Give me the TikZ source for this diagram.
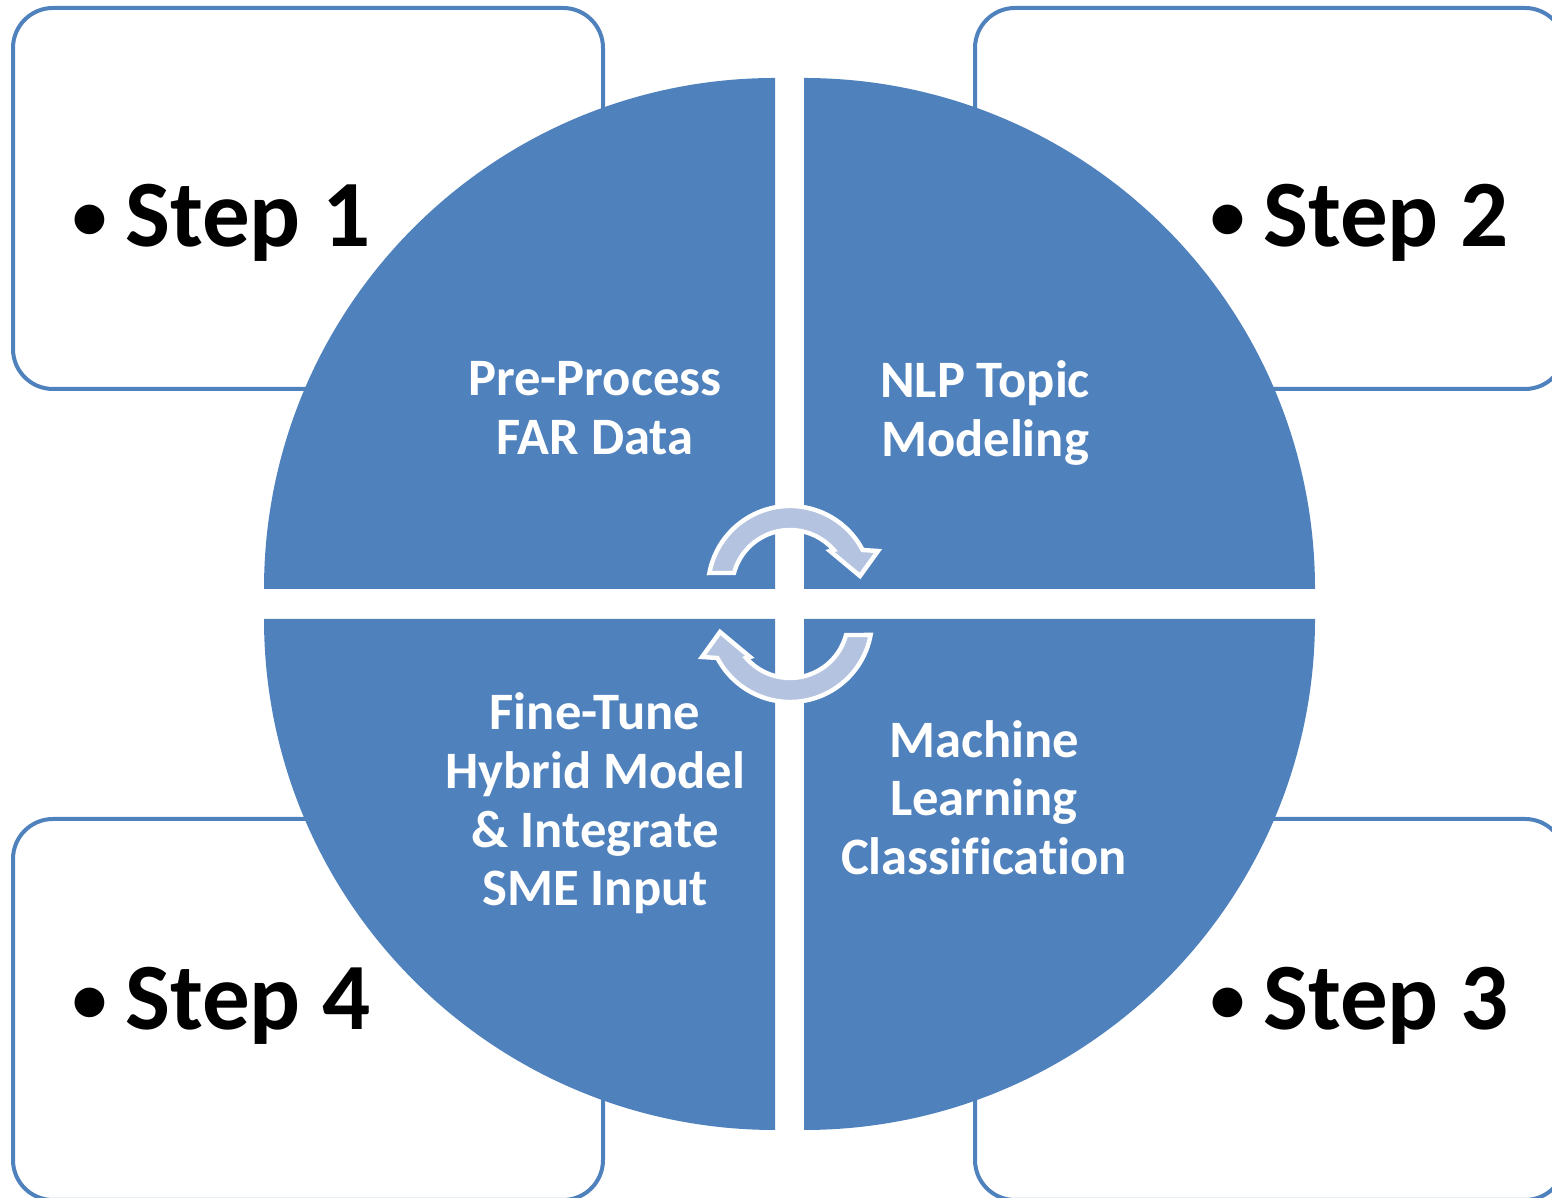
\documentclass[tikz,border=0pt]{standalone}
\usepackage{fontspec}
\setmainfont{Carlito}[Ligatures={NoCommon}]
\definecolor{accblue}{RGB}{79,129,189}
\definecolor{arrowfill}{RGB}{180,196,224}
\newcommand{\stepbullet}{\raisebox{3.6pt}{\fontsize{35}{35}\selectfont\textbullet}\hspace{9pt}}
\tikzset{
  stepbox/.style={draw=accblue, line width=2pt, fill=white, rounded corners=20pt,
    minimum width=295pt, minimum height=190.5pt, inner sep=0pt},
  steplabel/.style={anchor=base west, inner sep=0pt, font=\fontsize{47.5}{50}\selectfont\bfseries, text=black},
  quadtext/.style={align=center, text=white, inner sep=0pt, font=\fontsize{26.3}{29.3}\selectfont\bfseries},
  quad/.style={fill=accblue},
  cycarrow/.style={fill=arrowfill, draw=white, line width=2.2pt, line join=miter},
  cyc/.pic={
    \draw[cycarrow] (169.5:82) arc[start angle=169.5, end angle=27.6, radius=82]
      -- (88,37) -- (70,12) -- (40,37) -- (41:58)
      arc[start angle=41, end angle=165, radius=58] -- cycle;
  }
}
\begin{document}
\begin{tikzpicture}[x=0.5pt, y=0.5pt]
\useasboundingbox (0,0) rectangle (1552,1198);
\clip (0,0) rectangle (1552,1198);
% corner boxes
\node[stepbox] (box1) at (308,999.5) {};
\node[stepbox] (box2) at (1270,999.5) {};
\node[stepbox] (box3) at (1270,188.5) {};
\node[stepbox] (box4) at (308,188.5) {};
% step labels
\node[steplabel] (s1) at (72,951) {\stepbullet Step 1};
\node[steplabel] (s2) at (1210,951) {\stepbullet Step 2};
\node[steplabel] (s3) at (1210,168) {\stepbullet Step 3};
\node[steplabel] (s4) at (72,168) {\stepbullet Step 4};
% quadrants
\fill[quad] (775,609) -- (264,609) arc[start angle=180, end angle=90, radius=511] -- cycle;
\fill[quad] (804,609) -- (804,1120) arc[start angle=90, end angle=0, radius=511] -- cycle;
\fill[quad] (804,579) -- (1315,579) arc[start angle=0, end angle=-90, radius=511] -- cycle;
\fill[quad] (775,579) -- (775,68) arc[start angle=270, end angle=180, radius=511] -- cycle;
% cycle arrows
\pic at (790,610) {cyc};
\pic[rotate=180] at (790,578) {cyc};
% quadrant texts
\node[quadtext] (q1) at (595,790) {Pre-Process\\FAR Data};
\node[quadtext] (q2) at (985,785) {NLP Topic\\Modeling};
\node[quadtext] (q3) at (984,400.5) {Machine\\Learning\\Classification};
\node[quadtext] (q4) at (595,394.5) {Fine-Tune\\Hybrid Model\\\& Integrate\\SME Input};
\end{tikzpicture}
\end{document}
